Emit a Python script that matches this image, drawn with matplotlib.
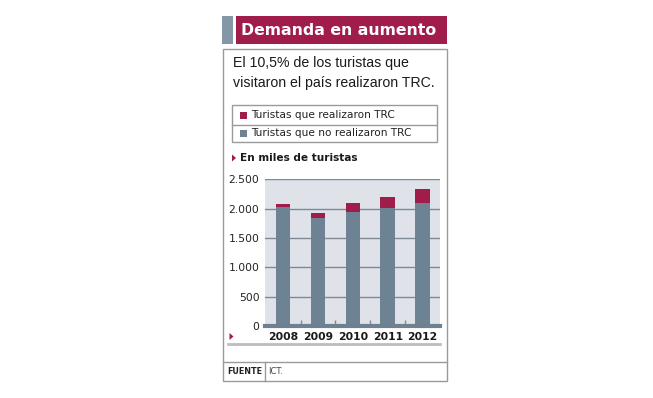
import matplotlib
matplotlib.use("Agg")
import matplotlib.pyplot as plt
from matplotlib.patches import Rectangle, Polygon
from matplotlib.lines import Line2D

years = ["2008", "2009", "2010", "2011", "2012"]
no_trc = [2035, 1845, 1950, 2005, 2090]
trc = [50, 85, 150, 185, 245]
yticks = [0, 500, 1000, 1500, 2000, 2500]
ytick_labels = ["0", "500", "1.000", "1.500", "2.000", "2.500"]

title = "Demanda en aumento"
subtitle = "El 10,5% de los turistas que\nvisitaron el país realizaron TRC."
legend_labels = ["Turistas que realizaron TRC", "Turistas que no realizaron TRC"]
unit_label = "En miles de turistas"
source_label = "FUENTE"
source_text = "ICT."

MAROON = "#a01c4a"
GRAYBLUE = "#6d8292"
PLOTBG = "#dfe3e9"
GRIDC = "#7d8a96"
BORDER = "#9a9a9a"

FAM = "DejaVu Sans"
REG = ["Liberation Sans", "DejaVu Sans"]

W, H = 653, 398
fig = plt.figure(figsize=(W / 100, H / 100), dpi=100)
fig.patch.set_facecolor("white")
renderer = fig.canvas.get_renderer()


def fx(x):
    return x / W


def fy(y):
    return 1 - y / H


def fit(t, target_px):
    w = t.get_window_extent(renderer=renderer).width
    if w > 0:
        t.set_fontsize(t.get_fontsize() * target_px / w)
    return t


def rect(x0, y0, x1, y1, **kw):
    fig.patches.append(Rectangle((fx(x0), fy(y1)), fx(x1) - fx(x0), fy(y0) - fy(y1),
                                 transform=fig.transFigure, figure=fig, **kw))


def hline(x0, x1, y, **kw):
    fig.lines.append(Line2D([fx(x0), fx(x1)], [fy(y), fy(y)], transform=fig.transFigure, figure=fig, **kw))


def vline(x, y0, y1, **kw):
    fig.lines.append(Line2D([fx(x), fx(x)], [fy(y0), fy(y1)], transform=fig.transFigure, figure=fig, **kw))


def tri(x0, y0, x1, y1, color):
    fig.patches.append(Polygon([(fx(x0), fy(y0)), (fx(x0), fy(y1)), (fx(x1), fy((y0 + y1) / 2))],
                               closed=True, transform=fig.transFigure, figure=fig, color=color, lw=0))


# Title bar
rect(222, 16, 233, 43.5, facecolor="#8497a6", lw=0)
rect(236.5, 16, 447, 43.5, facecolor=MAROON, lw=0)
t = fig.text(fx(241), fy(30.5), title, color="white", fontsize=15, fontweight="bold",
             family=FAM, va="center", ha="left")
fit(t, 196)

# Outer box
rect(222.5, 49, 446.5, 380.5, facecolor="none", edgecolor=BORDER, lw=1)
hline(222.5, 446.5, 361.5, color=BORDER, lw=1)
vline(264.5, 361.5, 380.5, color=BORDER, lw=1)
t = fig.text(fx(227), fy(371), source_label, fontsize=8, fontweight="bold", family=FAM,
             va="center", ha="left", color="#222222")
fit(t, 35)
t2 = fig.text(fx(268.5), fy(371), source_text, fontsize=t.get_fontsize() * 1.05, family=FAM,
              va="center", ha="left", color="#444444")

# Subtitle
t1 = fig.text(fx(233), fy(63.5), subtitle.split("\n")[0], fontsize=11, family=REG, va="center",
              ha="left", color="#1a1a1a")
t2 = fig.text(fx(233), fy(83), subtitle.split("\n")[1], fontsize=11, family=REG, va="center",
              ha="left", color="#1a1a1a")
fit(t2, 201)
t1.set_fontsize(t2.get_fontsize())

# Legend box
rect(231.5, 105, 436.5, 142, facecolor="none", edgecolor=BORDER, lw=1)
hline(231.5, 436.5, 125, color=BORDER, lw=1)
leg_texts = []
for i, (lab, col) in enumerate(zip(legend_labels, [MAROON, GRAYBLUE])):
    yc = 115.5 + i * 18
    rect(239.5, yc - 3.7, 246.5, yc + 3.7, facecolor=col, lw=0)
    leg_texts.append(fig.text(fx(251), fy(yc), lab, fontsize=9, family=FAM,
                              va="center", ha="left", color="#222222"))
fit(leg_texts[1], 160)
leg_texts[0].set_fontsize(leg_texts[1].get_fontsize())

# Unit label
tri(232, 154.5, 236, 161.5, MAROON)
t = fig.text(fx(239.5), fy(158), unit_label, fontsize=9.5, fontweight="bold", family=FAM,
             va="center", ha="left", color="#1a1a1a")
fit(t, 118)

# Bottom decorations
tri(229.5, 333, 233.5, 340, MAROON)
hline(228, 440, 343.5, color="#bdbdbd", lw=2)

# Chart axes
ax = fig.add_axes([fx(265), fy(326), fx(440) - fx(265), fy(179.3) - fy(326)])
ax.set_facecolor(PLOTBG)
x = list(range(len(years)))
ax.bar(x, no_trc, width=0.42, color=GRAYBLUE, zorder=3)
ax.bar(x, trc, bottom=no_trc, width=0.42, color=MAROON, zorder=3)
ax.set_xlim(-0.52, 4.5)
ax.set_ylim(0, 2500)
ax.set_yticks(yticks)
ax.set_yticklabels(ytick_labels, family=FAM, fontsize=9, color="#222222")
for yv in yticks[1:]:
    ax.axhline(yv, color=GRIDC, lw=1, zorder=2)
ax.set_xticks(x)
ax.set_xticklabels(years, family=FAM, fontsize=9, fontweight="bold", color="#1a1a1a")
ax.set_xticks([0.5, 1.5, 2.5, 3.5], minor=True)
ax.tick_params(axis="y", length=0, pad=4)
ax.tick_params(axis="x", which="major", length=0, pad=4)
ax.tick_params(axis="x", which="minor", length=4, direction="in", color="#7a8a98", width=1)
for s in ["top", "left", "right"]:
    ax.spines[s].set_visible(False)
ax.spines["bottom"].set_color("#6f8190")
ax.spines["bottom"].set_linewidth(3)
ax.spines["bottom"].set_zorder(4)

fig.canvas.draw()
ylabs = ax.get_yticklabels()
w = max(l.get_window_extent(renderer=renderer).width for l in ylabs)
for l in ylabs:
    l.set_fontsize(l.get_fontsize() * 31 / w)
xlabs = ax.get_xticklabels()
w = max(l.get_window_extent(renderer=renderer).width for l in xlabs)
for l in xlabs:
    l.set_fontsize(l.get_fontsize() * 30.5 / w)

fig.savefig("out.png", dpi=100, facecolor="white")
